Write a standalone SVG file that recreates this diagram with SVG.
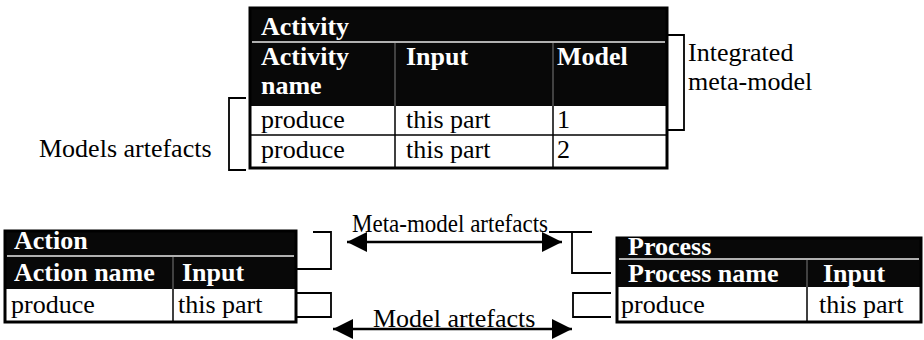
<svg xmlns="http://www.w3.org/2000/svg" width="924" height="340" viewBox="0 0 924 340">
<style>
text{font-family:"Liberation Serif","Times New Roman",Times,serif;font-size:26px;fill:#000}
.h{font-weight:bold;fill:#fff}
.blk{fill:#080808}
.wht{fill:#fff}
.bd{fill:none;stroke:#000;stroke-width:3}
.ln{stroke:#000;stroke-width:1.5}
.sep{stroke:#e8e8e8;stroke-width:1.5}
.dv{stroke:#555;stroke-width:1.5}
.br{fill:none;stroke:#000;stroke-width:1.8}
.arr{stroke:#000;stroke-width:2.5;marker-start:url(#ah);marker-end:url(#ah)}
</style>
<defs>
<marker id="ah" viewBox="0 0 20 20" refX="20" refY="10" markerWidth="20" markerHeight="20" markerUnits="userSpaceOnUse" orient="auto-start-reverse">
<path d="M0,0 L20,10 L0,20 Z" fill="#000"/>
</marker>
</defs>
<rect width="924" height="340" fill="#fff"/>

<g id="activity">
<rect class="blk" x="250" y="8" width="417" height="98"/>
<rect class="wht" x="250" y="106" width="417" height="62"/>
<line class="sep" x1="252" y1="42" x2="665" y2="42"/>
<line class="dv" x1="395" y1="43" x2="395" y2="106"/>
<line class="dv" x1="553" y1="43" x2="553" y2="106"/>
<line class="ln" x1="395" y1="106" x2="395" y2="168"/>
<line class="ln" x1="553" y1="106" x2="553" y2="168"/>
<line class="ln" x1="250" y1="135" x2="667" y2="135"/>
<rect class="bd" x="250" y="8" width="417" height="160"/>
<text class="h" x="261" y="35">Activity</text>
<text class="h" x="261" y="65">Activity</text>
<text class="h" x="261" y="94">name</text>
<text class="h" x="406" y="65">Input</text>
<text class="h" x="557" y="65">Model</text>
<text x="261" y="128">produce</text>
<text x="406" y="128">this part</text>
<text x="557" y="128">1</text>
<text x="261" y="158">produce</text>
<text x="406" y="158">this part</text>
<text x="557" y="158">2</text>
</g>

<g id="action">
<rect class="blk" x="5" y="231" width="291" height="58"/>
<rect class="wht" x="5" y="289" width="291" height="33"/>
<line class="sep" x1="7" y1="256" x2="294" y2="256"/>
<line class="dv" x1="173" y1="257" x2="173" y2="289"/>
<line class="ln" x1="173" y1="289" x2="173" y2="322"/>
<rect class="bd" x="5" y="231" width="291" height="91"/>
<text class="h" x="14" y="249">Action</text>
<text class="h" x="14" y="281">Action name</text>
<text class="h" x="182" y="281">Input</text>
<text x="11" y="313">produce</text>
<text x="178" y="313">this part</text>
</g>

<g id="process">
<rect class="blk" x="617" y="238" width="304" height="49"/>
<rect class="wht" x="617" y="287" width="304" height="35"/>
<line class="sep" x1="619" y1="259" x2="919" y2="259"/>
<line class="dv" x1="807" y1="260" x2="807" y2="287"/>
<line class="ln" x1="807" y1="287" x2="807" y2="322"/>
<rect class="bd" x="617" y="238" width="304" height="84"/>
<text class="h" x="628" y="255">Process</text>
<text class="h" x="628" y="282">Process name</text>
<text class="h" x="823" y="282">Input</text>
<text x="621" y="313">produce</text>
<text x="819" y="313">this part</text>
</g>

<g id="labels">
<text x="688" y="61">Integrated</text>
<text x="688" y="90">meta-model</text>
<text x="39" y="157">Models artefacts</text>
<text x="352" y="232" textLength="196" lengthAdjust="spacingAndGlyphs">Meta-model artefacts</text>
<text x="373" y="327">Model artefacts</text>
</g>

<g id="connectors">
<path class="br" d="M246,98 H229 V170 H246"/>
<path class="br" d="M668,35 H684 V130 H668"/>
<path class="br" d="M313,232 H331 V269 H297"/>
<path class="br" d="M297,293 H331 V317 H297"/>
<path class="br" d="M549,232 H592 M572,232 V273 H611"/>
<path class="br" d="M611,293 H573 V317 H611"/>
<line class="arr" x1="347" y1="242" x2="562" y2="242"/>
<line class="arr" x1="333" y1="329" x2="572" y2="329"/>
</g>
</svg>
